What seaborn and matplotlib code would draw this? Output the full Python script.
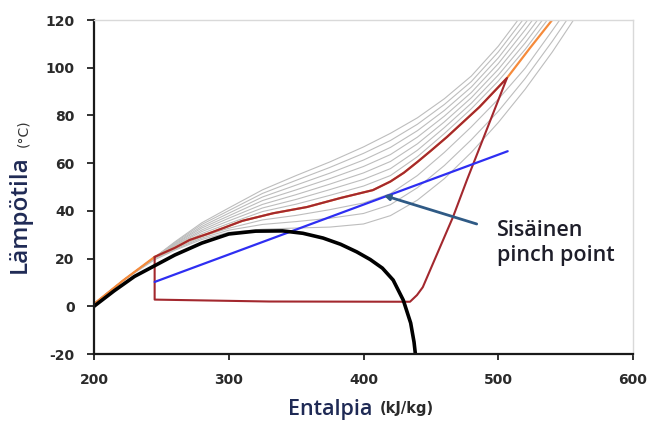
import numpy as np
import pandas as pd
import matplotlib
matplotlib.use("Agg")
import matplotlib.pyplot as plt
import seaborn as sns

# ---------------- data ----------------
# saturation dome (black)
dome_h = [200, 215, 230, 245, 260, 280, 300, 320, 340, 355, 370, 383, 395, 405, 414, 422, 429.5, 435, 437.5, 438.5]
dome_T = [0, 6.5, 12.5, 17, 21.5, 26.5, 30.3, 31.5, 31.6, 30.6, 28.6, 26, 22.8, 19.6, 16, 11, 2.6, -7, -15, -20]

# working isobar (orange, partly covered by the red cycle)
iso_h = [200, 222, 245, 260, 271, 285, 296, 310, 333, 358, 383, 407, 420, 430, 440, 450, 462, 486, 506.5, 523.6, 540, 550]
iso_T = [1.0, 11, 20.7, 24.5, 27.8, 30.5, 32.8, 35.8, 39, 41.6, 45.4, 48.7, 52.3, 56, 60.5, 65.2, 71, 83.5, 95.7, 108.3, 120, 127]

# cycle lower part (evaporation + compression), red
low_h = [245, 245, 330, 434.5, 439.7, 444, 466.4, 476.8, 506.5]
low_T = [20.7, 2.8, 2.0, 1.9, 4.7, 8, 37.4, 53, 95.7]

# heat-sink line (blue)
sink_h = [245, 507]
sink_T = [10.2, 65]

# grey isobars family
grid_h = [200, 222, 245, 260, 280, 300, 325, 350, 375, 400, 420, 440, 460, 480, 500, 520, 540, 560]
g0 = [1.0, 11, 20.5, 27.0, 35.0, 41.2, 48.8, 54.8, 60.5, 66.8, 72.5, 79.0, 87.0, 96.5, 109.0, 124.0, 139.0, 154.0]
g1 = [1.0, 11, 20.5, 26.7, 34.3, 40.1, 47.3, 52.8, 58.2, 64.1, 69.5, 76.3, 84.6, 94.2, 106.6, 121.3, 136.3, 151.3]
g2 = [1.0, 11, 20.6, 26.3, 33.5, 39.0, 45.8, 50.8, 55.8, 61.3, 66.6, 73.6, 82.1, 91.9, 104.1, 118.6, 133.6, 148.6]
g3 = [1.0, 11, 20.6, 26.0, 32.8, 37.9, 44.3, 48.8, 53.5, 58.6, 63.6, 70.9, 79.7, 89.6, 101.7, 115.9, 130.9, 145.9]
g4 = [1.0, 11, 20.6, 25.6, 32.0, 36.9, 42.7, 46.8, 51.2, 55.9, 60.7, 68.1, 77.3, 87.4, 99.3, 113.1, 128.1, 143.1]
g5 = [1.0, 11, 20.6, 25.3, 31.3, 35.8, 41.2, 44.8, 48.9, 53.2, 57.7, 65.4, 74.9, 85.1, 96.9, 110.4, 125.4, 140.4]
g6 = [1.0, 11, 20.7, 24.9, 30.5, 34.7, 39.7, 42.8, 46.5, 50.4, 54.8, 62.7, 72.4, 82.8, 94.4, 107.7, 122.7, 137.7]
g8 = [1.0, 11, 20.3, 24.2, 29.2, 32.7, 36.2, 38.1, 40.5, 43.3, 47.2, 54.8, 64.5, 75.2, 86.8, 99.8, 115.5, 131.5]
g9 = [1.0, 11, 19.9, 23.9, 28.6, 31.9, 34.3, 35.5, 36.9, 38.9, 42.6, 49.7, 59.0, 69.8, 81.7, 95.5, 111.0, 127.5]
g10 = [1.0, 11, 19.5, 23.5, 28.0, 31.0, 32.3, 32.8, 33.2, 34.5, 38.0, 44.5, 53.5, 64.5, 77.0, 91.0, 106.5, 123.5]
grey_lines = [g0, g1, g2, g3, g4, g5, g6, g8, g9, g10]

pinch_h, pinch_T = 415, 46.5
note_h, note_T = 484, 34.5

x_ticks = [200, 300, 400, 500, 600]
y_ticks = [-20, 0, 20, 40, 60, 80, 100, 120]

# ---------------- figure ----------------
sns.set_style("white")
plt.rcParams["font.family"] = ["DejaVu Sans"]

fig = plt.figure(figsize=(6.51, 4.21), dpi=100)
ax = fig.add_axes([94 / 651, 1 - 354 / 421, (633 - 94) / 651, (354 - 20) / 421])

grey_df = pd.concat(
    [pd.DataFrame({"h": grid_h, "T": g, "line": i}) for i, g in enumerate(grey_lines)],
    ignore_index=True,
)
sns.lineplot(data=grey_df, x="h", y="T", units="line", estimator=None, sort=False,
             color="#BDBDBD", lw=0.8, ax=ax, legend=False)

# orange isobar
sns.lineplot(x=iso_h, y=iso_T, sort=False, estimator=None, color="#F58A3A", lw=1.6, ax=ax)

# red cycle = lower part + isobar back to start
i_top = iso_h.index(506.5)
i_start = iso_h.index(245)
cyc_h = low_h + iso_h[i_start:i_top + 1][::-1]
cyc_T = low_T + iso_T[i_start:i_top + 1][::-1]
sns.lineplot(x=cyc_h, y=cyc_T, sort=False, estimator=None, color="#A3282E", lw=1.5, ax=ax)

# blue line
sns.lineplot(x=sink_h, y=sink_T, sort=False, estimator=None, color="#2E2EF2", lw=1.6, ax=ax)

# black dome
sns.lineplot(x=dome_h, y=dome_T, sort=False, estimator=None, color="black", lw=2.6, ax=ax)

# annotation
ax.annotate("", xy=(pinch_h, pinch_T), xytext=(note_h, note_T),
            arrowprops=dict(arrowstyle="-|>", color="#2F5A85", lw=2.0, mutation_scale=8,
                            shrinkA=0, shrinkB=0))
ax.text(499, 26.5, "Sisäinen\npinch point", fontsize=15.5, family="Open Sans",
        fontweight="semibold", color="#1E1E2A", ha="left", va="center", linespacing=1.25)

ax.set_xlim(200, 600)
ax.set_ylim(-20, 120)
ax.set_xticks(x_ticks)
ax.set_yticks(y_ticks)
ax.set_xticklabels([str(v) for v in x_ticks], fontweight="bold", fontsize=10, color="#2A2A2A")
ax.set_yticklabels([str(v) for v in y_ticks], fontweight="bold", fontsize=10, color="#2A2A2A")
ax.tick_params(axis="y", direction="out", length=5, width=1.3, pad=9, left=True, color="#222222")
ax.tick_params(axis="x", direction="out", length=4, width=1.3, pad=10, bottom=True, color="#222222")
ax.set_xlabel("")
ax.set_ylabel("")

for s in ["left", "bottom"]:
    ax.spines[s].set_color("#1A1A1A")
    ax.spines[s].set_linewidth(1.6)
for s in ["top", "right"]:
    ax.spines[s].set_color("#D9D9D9")
    ax.spines[s].set_linewidth(1.0)

# axis labels
fig.text(288 / 651, 1 - 410 / 421, "Entalpia", fontsize=15.5, family="Open Sans",
         fontweight="semibold", color="#1F2A55", ha="left", va="center")
fig.text(380 / 651, 1 - 408 / 421, "(kJ/kg)", fontsize=10.5, fontweight="bold",
         color="#2A2A2A", ha="left", va="center")
fig.text(20 / 651, 1 - 214 / 421, "Lämpötila", fontsize=17.5, family="Open Sans",
         fontweight="semibold", color="#1F2A55", rotation=90, ha="center", va="center")
fig.text(23 / 651, 1 - 133 / 421, "(°C)", fontsize=10, color="#333333",
         rotation=90, ha="center", va="center")

fig.savefig("out.png", dpi=100)
